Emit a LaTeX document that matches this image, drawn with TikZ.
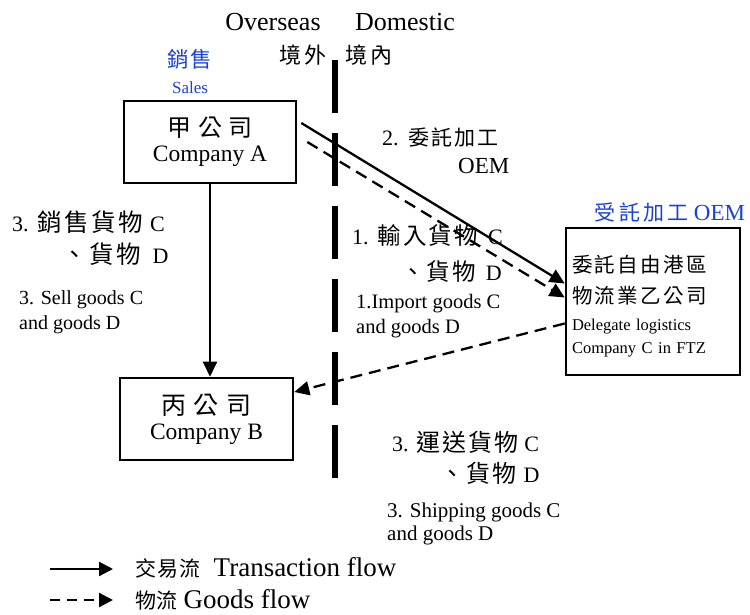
\documentclass[tikz,border=0pt]{standalone}
\usepackage{fontspec}
\setmainfont{Liberation Serif}
\newfontfamily\cjk{Noto Sans CJK TC}
\usetikzlibrary{arrows.meta}
\definecolor{oemblue}{RGB}{25,65,215}
% \zh{size}{letterspace}{text}
\newcommand{\zh}[3]{{\fontsize{#1}{#1}\cjk\addfontfeature{LetterSpace=#2}#3}}
\newcommand{\fs}[2]{\fontsize{#1}{#2}\selectfont}
\begin{document}
\begin{tikzpicture}[x=1pt,y=-1pt,
  box/.style={draw, line width=2.6pt, align=center, inner sep=0pt},
  tflow/.style={line width=2.3pt, -{Triangle[length=15pt,width=14pt]}},
  gflow/.style={tflow, dash pattern=on 12pt off 7pt},
  divider/.style={line width=6pt, dash pattern=on 53pt off 20pt},
  lbl/.style={inner sep=0pt}]
\useasboundingbox (0,0) rectangle (750,614);

% header
\node[lbl, font=\fs{26}{30}] (ovs) at (273,22) {Overseas};
\node[lbl, font=\fs{26}{30}] (dom) at (405,22) {Domestic};
\node[lbl] (jw) at (303,55) {\zh{22}{10}{境外}};
\node[lbl] (jn) at (369,55) {\zh{22}{10}{境內}};
\node[lbl, text=oemblue] (xs) at (190,59) {\zh{21.5}{6}{銷售}};
\node[lbl, font=\fs{17}{20}, text=oemblue] (sales) at (190,88) {Sales};

% divider
\coordinate (d1) at (335,60);
\coordinate (d2) at (335,481);
\draw[divider] (d1) -- (d2);

% boxes
\node[box, minimum width=172, minimum height=82, font=\fs{23.5}{25}] (A) at (210,142)
  {\zh{24}{27}{甲公司}\\Company A};
\node[box, minimum width=173, minimum height=82, font=\fs{23.5}{25}] (B) at (206.5,419)
  {\zh{25}{30}{丙公司}\\Company B};
\node[box, minimum width=174, minimum height=147, text width=162, inner xsep=6pt,
  align=left, font=\fs{16.5}{23}] (C) at (653,301.5)
  {\rule{0pt}{26pt}\zh{20.5}{12}{委託自由港區}\\[8pt]\zh{20.5}{12}{物流業乙公司}\\[4pt]Delegate logistics\\Company C in FTZ};
\node[lbl, font=\fs{23}{26}, text=oemblue] (oem) at (670,212) {\zh{21}{16}{受託加工}\hspace{5pt}OEM};

% labels
\node[lbl, anchor=west, align=left, font=\fs{22}{32}] (l3zh) at (12,238)
  {3.\hspace{9pt}\zh{24.5}{10}{銷售貨物}\hspace{7pt}C\\
   \hphantom{3.}\hspace{9pt}\hphantom{\zh{24.5}{10}{銷}}\zh{24.5}{10}{、貨物}\hspace{12pt}D};
\node[lbl, anchor=west, align=left, font=\fs{20}{25}] (l3en) at (19,312)
  {3. Sell goods C\\and goods D};
\node[lbl, anchor=west, align=left, font=\fs{22}{36}] (l1zh) at (352,254)
  {1.\hspace{9pt}\zh{23.5}{9}{輸入貨物}\hspace{10pt}C\\
   \hphantom{1.}\hspace{9pt}\hphantom{\zh{23.5}{9}{輸}}\zh{23.5}{9}{、貨物}\hspace{10pt}D};
\node[lbl, anchor=west, align=left, font=\fs{20.5}{25}] (l1en) at (356,316)
  {1.Import goods C\\and goods D};
\node[lbl, anchor=west, align=left, font=\fs{22}{28}] (l2) at (382,151)
  {2.\hspace{10pt}\zh{21}{10}{委託加工}\\\hspace*{76pt}{\fs{23}{28}OEM}};
\node[lbl, anchor=west, align=left, font=\fs{22}{31}] (l3s) at (392,458)
  {3.\hspace{8pt}\zh{24}{8}{運送貨物}\hspace{6pt}C\\
   \hphantom{3.}\hspace{8pt}\hphantom{\zh{24}{8}{運}}\zh{24}{8}{、貨物}\hspace{7pt}D};
\node[lbl, anchor=west, align=left, font=\fs{21}{23}] (l3sen) at (387,524)
  {3. Shipping goods C\\and goods D};

% connectors
\draw[tflow] (A.south) -- (A.south |- B.north);
\draw[tflow] ([shift={(4,-19)}]A.east) -- ([shift={(0,-18)}]C.west);
\draw[gflow] ([shift={(10,0)}]A.east) -- ([shift={(0,-4)}]C.west);
\draw[gflow] ([shift={(0,22)}]C.west) -- ([shift={(0,-27)}]B.east);

% legend
\coordinate (lg1s) at (50,569);
\coordinate (lg1e) at (113,569);
\coordinate (lg2s) at (50,600);
\coordinate (lg2e) at (113,600);
\draw[tflow, -{Triangle[length=14pt,width=14pt]}] (lg1s) -- (lg1e);
\draw[gflow, dash pattern=on 10pt off 7pt, -{Triangle[length=14pt,width=14pt]}] (lg2s) -- (lg2e);
\node[lbl, anchor=west, font=\fs{27}{28}] (lg1t) at (135,568) {\zh{21}{6}{交易流}\hspace{13pt}Transaction flow};
\node[lbl, anchor=west, font=\fs{27}{28}] (lg2t) at (135,600) {\zh{21}{2}{物流}\hspace{6pt}Goods flow};
\end{tikzpicture}
\end{document}
